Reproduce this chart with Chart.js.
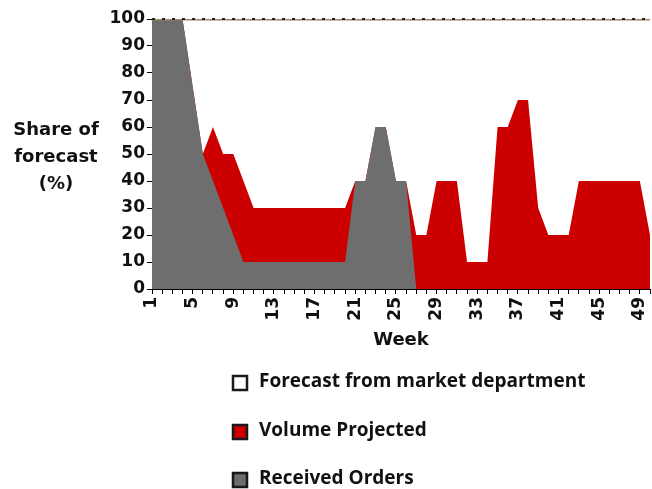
<!DOCTYPE html>
<html>
<head>
<meta charset="utf-8">
<script src="https://cdn.jsdelivr.net/npm/chart.js@4"></script>
<style>
  html, body { margin: 0; padding: 0; background: #fff; }
  #wrap { width: 652px; height: 489px; }
</style>
</head>
<body>
<div id="wrap"><canvas id="myChart" width="652" height="489"></canvas></div>
<script>
var weeks = [];
for (var w = 1; w <= 50; w++) weeks.push(String(w));
var tickWeeks = ["1", "5", "9", "13", "17", "21", "25", "29", "33", "37", "41", "45", "49"];

var forecast = [100,100,100,100,100,100,100,100,100,100,
                100,100,100,100,100,100,100,100,100,100,
                100,100,100,100,100,100,100,100,100,100,
                100,100,100,100,100,100,100,100,100,100,
                100,100,100,100,100,100,100,100,100,100];
var volumeProjected = [100,100,100,100,75,50,60,50,50,40,
                       30,30,30,30,30,30,30,30,30,30,
                       40,40,60,60,40,40,20,20,40,40,
                       40,10,10,10,60,60,70,70,30,20,
                       20,20,40,40,40,40,40,40,40,20];
var receivedOrders = [100,100,100,100,75,50,40,30,20,10,
                      10,10,10,10,10,10,10,10,10,10,
                      40,40,60,60,40,40,0,0,0,0,
                      0,0,0,0,0,0,0,0,0,0,
                      0,0,0,0,0,0,0,0,0,0];

var seriesNames = ["Forecast from market department", "Volume Projected", "Received Orders"];
var seriesColors = ["#ffffff", "#cc0000", "#6e6e6e"];

var axisFont = {family: "DejaVu Sans", weight: "bold", size: 17};
var titleFont = {family: "DejaVu Sans", weight: "bold", size: 18};

// y axis title, horizontal, left of the ticks
var yTitle = {
  id: "yTitle",
  afterDraw: function(chart) {
    var ctx = chart.ctx;
    ctx.save();
    ctx.font = "bold 18px 'DejaVu Sans'";
    ctx.fillStyle = "#111";
    ctx.textAlign = "center";
    ctx.textBaseline = "middle";
    ctx.fillText("Share of", 56, 130);
    ctx.fillText("forecast", 56, 157);
    ctx.fillText("(%)", 56, 184);
    ctx.restore();
  }
};

// dark dots over the tan forecast line, following the dataset's own points
var forecastDots = {
  id: "forecastDots",
  afterDatasetsDraw: function(chart) {
    var pts = chart.getDatasetMeta(0).data;
    var ctx = chart.ctx;
    ctx.save();
    ctx.beginPath();
    pts.forEach(function(p, i) {
      if (i === 0) ctx.moveTo(p.x, p.y); else ctx.lineTo(p.x, p.y);
    });
    ctx.setLineDash([3, 7]);
    ctx.lineWidth = 2;
    ctx.strokeStyle = "#2a2218";
    ctx.stroke();
    ctx.restore();
  }
};

// legend as a vertical list under the chart
var sideLegend = {
  id: "sideLegend",
  afterDraw: function(chart) {
    var ctx = chart.ctx;
    var rows = [382, 431, 479];
    ctx.save();
    ctx.font = "bold 19px 'Open Sans'";
    ctx.textBaseline = "middle";
    ctx.textAlign = "left";
    chart.data.datasets.forEach(function(ds, i) {
      var y = rows[i] + 1;
      ctx.fillStyle = ds.backgroundColor;
      ctx.fillRect(233, y - 7, 14, 14);
      ctx.lineWidth = 2.5;
      ctx.strokeStyle = "#1a1a1a";
      ctx.strokeRect(233, y - 7, 14, 14);
      ctx.fillStyle = "#111";
      ctx.fillText(ds.label, 259, rows[i]);
    });
    ctx.restore();
  }
};

new Chart("myChart", {
  type: "line",
  data: {
    labels: weeks,
    datasets: [{
      label: seriesNames[0],
      data: forecast,
      backgroundColor: seriesColors[0],
      borderColor: "#9a8668",
      borderWidth: 3,
      fill: "origin",
      pointRadius: 0,
      order: 3
    }, {
      label: seriesNames[1],
      data: volumeProjected,
      backgroundColor: seriesColors[1],
      borderWidth: 0,
      fill: "origin",
      pointRadius: 0,
      order: 2
    }, {
      label: seriesNames[2],
      data: receivedOrders,
      backgroundColor: seriesColors[2],
      borderWidth: 0,
      fill: "origin",
      pointRadius: 0,
      order: 1
    }]
  },
  options: {
    responsive: false,
    animation: false,
    layout: {padding: {top: 19, right: 2, bottom: 134, left: 0}},
    plugins: {
      legend: {display: false},
      tooltip: {enabled: false},
      filler: {drawTime: "beforeDatasetsDraw"}
    },
    scales: {
      x: {
        offset: false,
        grid: {drawOnChartArea: false, drawTicks: true, tickLength: 5, color: "#000"},
        border: {display: true, color: "#000", width: 1},
        ticks: {
          autoSkip: false,
          minRotation: 90,
          maxRotation: 90,
          padding: 3,
          color: "#111",
          font: axisFont,
          callback: function(v, i) {
            return tickWeeks.indexOf(weeks[i]) >= 0 ? weeks[i] : "";
          }
        },
        title: {display: true, text: "Week", color: "#111", font: titleFont, padding: {top: 0, bottom: 4}},
        afterFit: function(s) { s.height = 66; s.paddingLeft = 0; s.paddingRight = 0; }
      },
      y: {
        min: 0,
        max: 100,
        grid: {drawOnChartArea: false, drawTicks: true, tickLength: 5, color: "#000"},
        border: {display: true, color: "#000", width: 1},
        ticks: {stepSize: 10, padding: 2, color: "#111", font: axisFont},
        afterFit: function(s) { s.width = 152; }
      }
    }
  },
  plugins: [yTitle, forecastDots, sideLegend]
});
</script>
</body>
</html>
